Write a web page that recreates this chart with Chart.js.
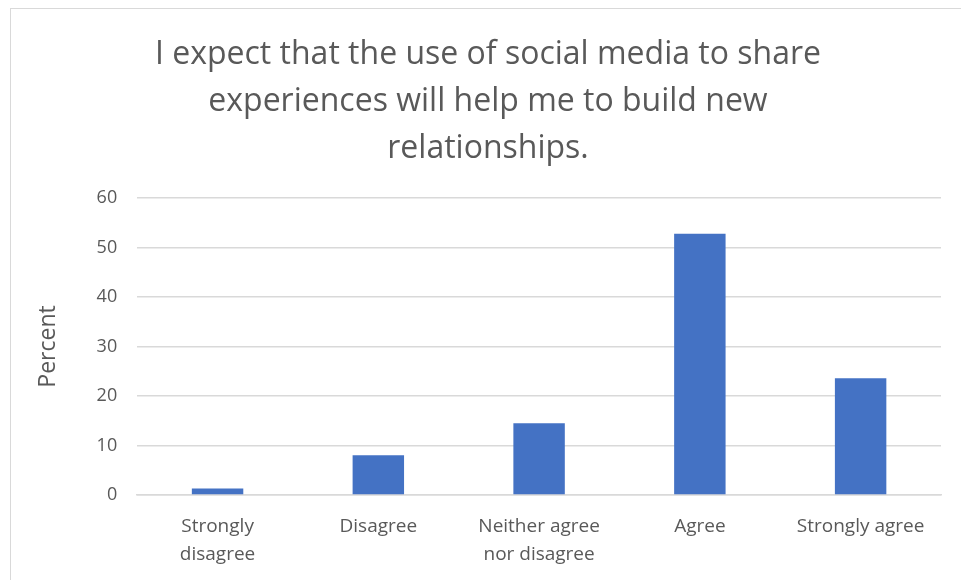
<!DOCTYPE html>
<html>
<head>
<meta charset="utf-8">
<script src="https://cdn.jsdelivr.net/npm/chart.js@4"></script>
<style>
  html, body { margin: 0; padding: 0; background: #fff; overflow: hidden; }
  #box { position: absolute; left: 10px; top: 8px; width: 970px; height: 580px; border: 1.5px solid #d9d9d9; box-sizing: border-box; }
  #wrap { position: absolute; left: 0; top: 0; width: 961px; height: 586px; }
</style>
</head>
<body>
<div id="box"></div>
<div id="wrap"><canvas id="chart"></canvas></div>
<script>
// answer categories (two-line labels like the original)
const categories = [
  ["Strongly", "disagree"],
  "Disagree",
  ["Neither agree", "nor disagree"],
  "Agree",
  "Strongly agree"
];
const percents = [1.3, 8.0, 14.5, 52.8, 23.6];
const titleLines = [
  "I expect that the use of social media to share",
  "experiences will help me to build new",
  "relationships."
];

const grey = "#595959";
const font = "'Open Sans', 'Liberation Sans', sans-serif";

const chart = new Chart(document.getElementById("chart"), {
  type: "bar",
  data: {
    labels: categories,
    datasets: [{
      label: "Percent",
      data: percents,
      backgroundColor: "#4472c4",
      borderWidth: 0,
      categoryPercentage: 1,
      barPercentage: 0.32
    }]
  },
  options: {
    responsive: true,
    maintainAspectRatio: false,
    animation: false,
    layout: { padding: { left: 35, right: 20, top: 15, bottom: 0 } },
    plugins: {
      legend: { display: false },
      tooltip: { enabled: false },
      title: {
        display: true,
        text: titleLines,
        color: grey,
        font: { family: font, size: 32, weight: "normal", lineHeight: 1.47 },
        padding: { top: 16, bottom: 26 }
      }
    },
    scales: {
      x: {
        grid: { display: false, drawTicks: false },
        border: { color: "#d9d9d9", width: 1.5 },
        ticks: { color: grey, font: { family: font, size: 19, lineHeight: 1.45 }, padding: 18, maxRotation: 0, autoSkip: false }
      },
      y: {
        min: 0, max: 60,
        ticks: { stepSize: 10, color: grey, font: { family: font, size: 18 }, padding: 20 },
        grid: { color: "#d9d9d9", lineWidth: 1.5, drawTicks: false },
        border: { display: false },
        title: { display: true, text: "Percent", color: grey, font: { family: font, size: 23 }, padding: { top: 0, bottom: 14 } }
      }
    }
  }
});
</script>
</body>
</html>
